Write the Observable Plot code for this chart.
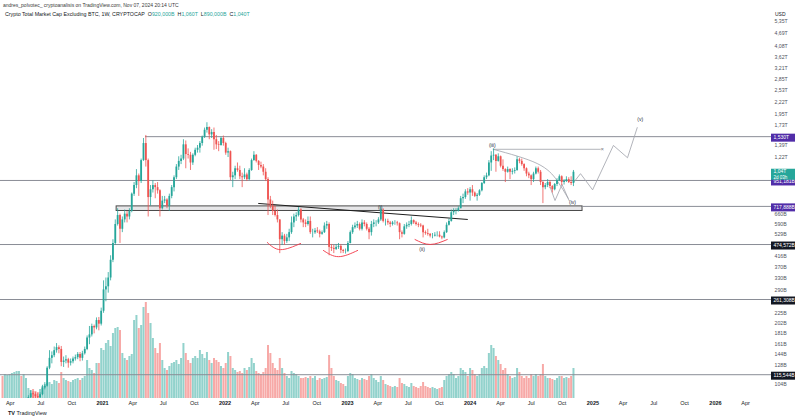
<!DOCTYPE html>
<html><head><meta charset="utf-8">
<script src="https://cdn.jsdelivr.net/npm/d3@7"></script>
<script src="https://cdn.jsdelivr.net/npm/@observablehq/plot@0.6"></script>
<style>
body{margin:0;background:#fff;font-family:"Liberation Sans",Arial,sans-serif;}
#wrap{position:relative;width:800px;height:419px;overflow:hidden;background:#fff}
#wrap svg{position:absolute;left:0;top:0}
.hdr{position:absolute;white-space:nowrap;color:#131722;font-family:"Liberation Sans",Arial,sans-serif}
.val{color:#26a69a}
</style></head><body><div id="wrap"></div>
<script>
// ---------- DATA (USD billions, weekly candles starting 2020-03-09) ----------
const firstWeek = "2020-03-09";
const firstOpen = 70;
const closes = [
50,55,58,62,64,66,70,78,74,78,
80,90,94,93,91,90,93,100,102,124,
138,142,150,155,152,132,134,136,131,133,
137,139,144,138,145,152,172,178,195,192,
208,200,230,290,300,330,400,480,590,650,
560,620,660,640,680,820,900,1000,940,1180,
1420,1180,790,860,900,880,850,700,760,770,
720,800,880,980,1100,1170,1200,1400,1260,1250,
1150,1250,1320,1350,1420,1520,1640,1690,1560,1600,
1480,1400,1390,1500,1420,1280,1300,980,1000,1080,
1060,990,980,1010,960,1060,1180,1250,1170,1120,
1100,1040,960,770,720,680,650,620,500,520,
490,510,540,600,640,650,690,620,600,590,
610,540,540,550,545,530,540,580,590,460,
455,450,460,465,445,440,440,480,540,570,
580,590,560,600,590,560,540,590,600,600,
620,690,610,610,600,590,600,600,595,540,
530,575,585,590,615,600,590,585,580,540,
535,530,520,520,525,525,515,510,540,585,
610,670,680,680,700,780,790,840,830,860,
830,800,810,850,920,980,1000,1150,1240,1250,
1170,1230,1110,1070,1040,1070,1040,1050,1060,1190,
1170,1130,1080,1020,1000,960,1020,1080,1040,930,
880,900,930,890,860,910,950,990,930,940,
960,930,920,1040];
const highs = [
72,60,62,66,70,69,72,85,82,82,
86,92,97,96,95,94,95,103,106,126,
150,148,156,162,158,157,140,142,138,137,
140,143,147,147,149,156,176,195,200,198,
214,215,238,320,330,350,420,500,620,700,
660,640,690,680,700,830,930,1070,1020,1200,
1500,1550,1200,900,950,920,930,860,800,800,
780,820,900,1000,1130,1230,1250,1480,1460,1340,
1290,1270,1350,1390,1450,1540,1680,1780,1700,1650,
1680,1550,1450,1520,1540,1440,1350,1310,1040,1110,
1150,1110,1030,1080,1030,1080,1200,1300,1260,1180,
1160,1130,1080,980,800,760,720,690,620,540,
530,530,560,640,660,670,710,700,630,620,
640,640,560,565,570,555,550,600,610,600,
475,470,475,480,475,450,452,490,550,585,
600,610,600,620,615,600,570,610,620,615,
635,715,700,625,625,610,610,615,610,600,
550,590,600,610,640,620,610,600,595,585,
550,560,535,535,540,545,545,520,550,600,
625,690,700,700,715,800,820,860,870,880,
900,840,825,860,930,1000,1030,1180,1300,1340,
1260,1270,1240,1190,1080,1100,1080,1080,1090,1230,
1210,1200,1140,1090,1040,1010,1040,1100,1100,1060,
940,920,960,950,900,920,970,1010,1000,960,
990,980,990,1060];
const lows = [
45,45,53,56,60,61,64,69,70,70,
76,79,88,89,88,86,88,92,98,101,
122,130,139,146,145,126,125,130,124,127,
130,134,136,133,134,143,150,160,174,180,
188,186,196,225,255,280,320,390,470,580,
480,540,600,600,620,670,800,870,800,920,
1170,1100,640,720,830,780,820,640,690,740,
700,680,780,840,960,1060,1130,1180,1080,1200,
1060,1120,1230,1280,1280,1380,1500,1590,1480,1500,
1320,1330,1300,1380,1380,1250,1220,950,880,960,
1040,960,880,960,940,950,1050,1170,1150,1060,
1080,1000,940,650,700,650,640,600,430,470,
470,480,490,530,570,610,640,600,570,570,
580,530,510,530,535,510,525,535,560,420,
440,430,445,450,430,430,428,435,478,530,
560,565,550,550,575,550,500,520,570,575,
590,610,600,580,585,570,580,585,580,500,
510,525,560,570,580,590,580,570,570,510,
525,520,510,505,515,515,510,500,505,535,
580,605,650,655,675,700,740,775,810,760,
800,790,760,800,840,910,960,990,1050,1180,
1040,1160,1090,1050,930,1030,960,1010,1020,1050,
1140,1110,1050,990,970,900,930,1010,1020,900,
740,860,880,870,830,850,890,940,900,905,
930,920,900,890];
const volumes = [
22,24,23,24,25,26,27,27,22,24,
20,10,8,9,7,6,9,12,14,15,
16,14,18,17,15,26,20,18,17,16,
18,19,20,18,20,22,38,30,28,25,
35,35,50,48,55,58,52,65,70,71,
68,45,40,38,42,44,78,83,70,73,
91,96,85,75,60,50,45,55,38,30,
28,32,35,36,38,34,40,55,45,38,
35,40,42,40,48,44,40,46,38,35,
40,38,36,32,30,35,46,42,30,28,
26,27,25,30,28,31,40,35,27,25,
24,26,30,53,45,35,30,28,40,30,
25,22,20,27,25,24,22,20,20,21,
20,22,20,22,18,20,19,20,21,43,
30,22,18,17,15,14,12,22,25,24,
20,19,18,20,19,18,22,24,20,18,
16,22,18,14,13,12,11,12,11,20,
15,14,12,11,15,12,11,10,12,16,
12,11,10,11,10,9,10,11,18,22,
24,26,24,20,22,30,28,26,22,30,
28,24,22,24,30,32,30,45,53,50,
42,38,34,28,30,24,22,20,21,30,
26,22,20,22,20,24,22,24,22,24,
34,22,20,20,19,18,20,22,22,20,
21,20,22,30];

// axis ticks
const yTickValues = [5350,4690,4080,3620,3210,2850,2530,2220,1950,1730,1390,1220,845,660,590,529,416,370,330,290,225,202,181,161,144,128,104,93];
const monthLabels = {3:"Apr",6:"Jul",9:"Oct"};
const xTickStart = "2020-04-01", xTickEnd = "2026-04-02";

// horizontal levels: [value, label, label colour, start date or null for full width]
const levels = [
  {value:1530, label:"1,530T", color:"#512da8", from:"2021-05-09"},
  {value:951.181, label:"951,181B", color:"#512da8", from:null},
  {value:717.888, label:"717,888B", color:"#512da8", from:"2024-12-01"},
  {value:474.572, label:"474,572B", color:"#131722", from:null},
  {value:261.308, label:"261,308B", color:"#131722", from:null},
  {value:115.544, label:"115,544B", color:"#131722", from:null}
];
const zoneBox = {from:"2021-02-12", to:"2024-12-01", low:683, high:717.888};
const neckline = [["2022-04-11",741],["2023-12-24",623]];
const arcs = [
  [["2022-05-07",485],["2022-06-15",449],["2022-08-14",480]],
  [["2022-10-21",445],["2022-12-05",416],["2023-01-31",445]],
  [["2023-07-21",501],["2023-09-04",475],["2023-10-25",501]]
];
const waveLabels = [
  ["(i)","2023-04-08",712],["(ii)","2023-08-11",449],["(iii)","2024-03-07",1391],
  ["(iv)","2024-11-01",749],["(v)","2025-05-22",1843]
];
const roundCurve = [["2024-03-10",1334],["2024-07-19",1143],["2024-09-16",951],["2024-10-19",784]];
const topLine = [["2024-03-10",1334],["2025-01-23",1334]];
const smallZig = [["2024-08-27",881],["2024-09-10",765],["2024-10-01",911],["2024-10-22",765]];
const projection = [["2024-11-04",929],["2024-11-25",1024],["2024-12-31",859],["2025-03-03",1391],["2025-04-14",1217],["2025-05-13",1688]];

// ---------- BUILD ----------
const UP="#26a69a", DOWN="#ef5350";
const W=800, H=419, MR=29, MB=21;
const xDomain=[new Date("2020-03-03"), new Date("2026-06-17")];
const yDomain=[89.25, 6706];
const t0 = new Date(firstWeek);
const candles = closes.map((c,i)=>({date:new Date(+t0 + i*7*864e5), open: i ? closes[i-1] : firstOpen, close:c, high:highs[i], low:lows[i], volume:volumes[i]}));
const visible = candles.filter(d=>d.high > yDomain[0]);
const pts = a => a.map(([d,v])=>({date:new Date(d), value:v}));
const fmtT = v => v>=1000 ? (v/1000).toFixed(2).replace(".",",")+"T" : v>=100 ? Math.round(v)+"B" : v.toFixed(1).replace(".",",")+"B";
const fmtH = v => v>=1000 ? (v/1000).toFixed(3).replace(".",",")+"T" : v.toFixed(3).replace(".",",")+"B";

const months = d3.utcMonth.every(3).range(new Date(xTickStart), new Date(xTickEnd));
const monthTicks = months.filter(d=>d.getUTCMonth()!==0);
const yearTicks = months.filter(d=>d.getUTCMonth()===0);

const wrap = document.getElementById("wrap");

const volPlot = Plot.plot({
  width:W, height:H, marginTop:0, marginLeft:0, marginRight:MR, marginBottom:MB,
  style:{background:"white"},
  x:{type:"utc", domain:xDomain, axis:null},
  y:{domain:[0,98], range:[398,300], axis:null},
  marks:[
    Plot.ruleX(candles.filter(d=>d.close>=d.open), {x:"date", y1:0, y2:"volume", stroke:UP, strokeOpacity:0.5, strokeWidth:2}),
    Plot.ruleX(candles.filter(d=>d.close<d.open), {x:"date", y1:0, y2:"volume", stroke:DOWN, strokeOpacity:0.5, strokeWidth:2})
  ]
});
wrap.appendChild(volPlot);

const last = candles[candles.length-1];
const lineStroke = "#8a8d96";
const pricePlot = Plot.plot({
  width:W, height:H, marginTop:0, marginLeft:0, marginRight:MR, marginBottom:MB,
  style:{background:"transparent", overflow:"visible", fontFamily:"Liberation Sans, Arial, sans-serif", color:"#131722"},
  x:{type:"utc", domain:xDomain},
  y:{type:"log", domain:yDomain, clamp:true},
  marks:[
    Plot.rect([zoneBox], {x1:d=>new Date(d.from), x2:d=>new Date(d.to), y1:"low", y2:"high", fill:"#d5d5d8", fillOpacity:0.6, stroke:"#4a4a4a", strokeWidth:1}),
    Plot.ruleY(levels.filter(d=>!d.from), {y:"value", stroke:lineStroke, strokeWidth:1}),
    Plot.ruleY(levels.filter(d=>d.from), {y:"value", x1:d=>new Date(d.from), x2:()=>xDomain[1], stroke:lineStroke, strokeWidth:1}),
    Plot.line(pts(neckline), {x:"date", y:"value", stroke:"#1e1e1e", strokeWidth:1}),
    ...arcs.map(a=>Plot.line(pts(a), {x:"date", y:"value", stroke:"#f23645", strokeWidth:0.9, curve:"natural"})),
    Plot.line(pts(roundCurve), {x:"date", y:"value", stroke:"#9ea1aa", strokeWidth:0.8, curve:"natural"}),
    Plot.line(pts(topLine), {x:"date", y:"value", stroke:"#9ea1aa", strokeWidth:0.8}),
    Plot.line(pts(smallZig), {x:"date", y:"value", stroke:"#9ea1aa", strokeWidth:0.8}),
    Plot.line(pts(projection), {x:"date", y:"value", stroke:"#9ea1aa", strokeWidth:0.8}),
    Plot.text(pts([topLine[1]]), {x:"date", y:"value", text:()=>"×", fontSize:6, fill:"#787b86", dx:2}),
    // candles
    Plot.ruleX(visible, {x:"date", y1:"low", y2:"high", stroke:d=>d.close>=d.open?UP:DOWN, strokeWidth:0.8}),
    Plot.ruleX(visible, {x:"date", y1:"open", y2:"close", stroke:d=>d.close>=d.open?UP:DOWN, strokeWidth:1.8}),
    Plot.text(waveLabels.map(([t,d,v])=>({t, date:new Date(d), value:v})), {x:"date", y:"value", text:"t", fontSize:5, fill:"#2a2e39"}),
    // axes
    Plot.axisX(monthTicks, {anchor:"bottom", tickSize:0, tickPadding:3, fontSize:5.5, tickFormat:d=>monthLabels[d.getUTCMonth()], label:null}),
    Plot.axisX(yearTicks, {anchor:"bottom", tickSize:0, tickPadding:3, fontSize:5.5, fontWeight:"bold", tickFormat:d=>String(d.getUTCFullYear()), label:null}),
    Plot.axisY(yTickValues, {anchor:"right", tickSize:0, tickPadding:3, fontSize:5.2, tickFormat:fmtT, label:null, fill:"#50535e"}),
    // price labels on the axis
    Plot.ruleY(levels, {y:"value", stroke:"color", strokeWidth:8, insetLeft:W-MR, insetRight:-24, dy:1}),
    Plot.text(levels, {y:"value", text:"label", frameAnchor:"right", textAnchor:"start", dx:2, dy:1, fill:"white", fontSize:5}),
    Plot.ruleY([last], {y:"close", stroke:UP, strokeWidth:11, insetLeft:W-MR, insetRight:-24, dy:2}),
    Plot.text([last], {y:"close", text:d=>fmtT(d.close).replace("T","T"), frameAnchor:"right", textAnchor:"start", dx:2, dy:-1, fill:"white", fontSize:5}),
    Plot.text([last], {y:"close", text:()=>"2d 03h", frameAnchor:"right", textAnchor:"start", dx:2, dy:5, fill:"white", fontSize:4.5})
  ]
});
wrap.appendChild(pricePlot);

// header / footer text
function addText(html, left, top, size, color, weight){
  const d=document.createElement("div"); d.className="hdr"; d.innerHTML=html;
  d.style.left=left+"px"; d.style.top=top+"px"; d.style.fontSize=size+"px"; d.style.color=color; if(weight) d.style.fontWeight=weight;
  wrap.appendChild(d);
}
addText("andres_polvotec_ cryptoanalisis on TradingView.com, Nov 07, 2024 20:14 UTC", 3, 2, 5, "#3a3a3a");
addText(`Crypto Total Market Cap Excluding BTC, 1W, CRYPTOCAP&nbsp;&nbsp;O<span class="val">${fmtH(last.open)}</span>&nbsp;&nbsp;H<span class="val">${fmtH(last.high)}</span>&nbsp;&nbsp;L<span class="val">${fmtH(last.low)}</span>&nbsp;&nbsp;C<span class="val">${fmtH(last.close)}</span>`, 5, 11, 5.3, "#131722");
addText("USD", 775, 11, 5, "#131722");
addText("<b>TV</b> TradingView", 8, 410, 5.5, "#131722");
</script>
</body></html>
